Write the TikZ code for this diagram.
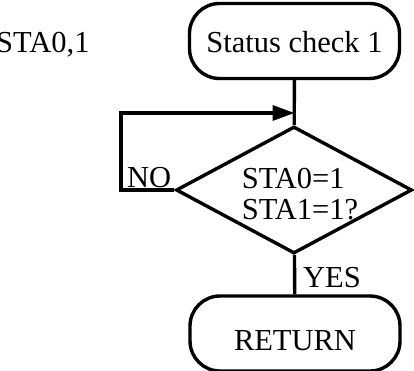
\documentclass[tikz,border=0pt]{standalone}
\usepackage{fontspec}
\setmainfont{Liberation Serif}
\usetikzlibrary{shapes.geometric,arrows.meta}

\tikzset{
  flowline/.style={line width=3.4pt},
  terminal/.style={draw, line width=3.4pt, rounded corners=30pt,
    minimum width=210pt, minimum height=75pt, inner sep=0pt},
  decision/.style={draw, diamond, line width=3.4pt,
    minimum width=236pt, minimum height=127pt, inner sep=0pt},
  tag/.style={inner sep=0pt, anchor=base west},
}

\begin{document}
\begin{tikzpicture}[x=1pt,y=-1pt,font=\fontsize{30.5}{30.5}\selectfont]
    \useasboundingbox (0,0) rectangle (414,371);
    % blocks
    \node[terminal, text height=24pt] (check) at (294.5,41) {Status check 1};
    \node[decision] (test) at (294,190) {};
    \node[align=left, inner sep=0pt] (cond) at (300,194) {STA0=1\\STA1=1?};
    \node[terminal, text height=34pt] (ret) at (295,333.5) {RETURN};
    \node[tag] (sta) at (-4,53) {STA0,1};
    % wiring
    \coordinate (loop) at (121,113);
    \coordinate (join) at (check.south |- loop);
    \draw[flowline] (check) -- (test);
    \draw[flowline] (test) -- (ret);
    \draw[flowline, -{Triangle[length=22pt,width=15pt]}]
        (test.west) -| (loop) -- (join);
    \node[tag] (no) at (127,187) {NO};
    \node[tag] (yes) at (303,287) {YES};
\end{tikzpicture}
\end{document}
